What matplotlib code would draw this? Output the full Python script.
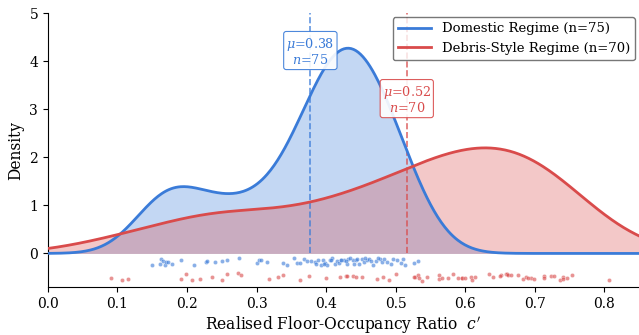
import numpy as np
import matplotlib
matplotlib.use("Agg")
import matplotlib.pyplot as plt

# rug values (realised floor-occupancy ratio c')
domestic = [
    0.149, 0.161, 0.163, 0.166, 0.168, 0.170, 0.172, 0.179, 0.192, 0.210, 0.228, 0.229, 0.240,
    0.250, 0.258, 0.275, 0.300, 0.303, 0.307, 0.338, 0.344, 0.354, 0.358, 0.362, 0.368, 0.373,
    0.384, 0.388, 0.392, 0.395, 0.399, 0.402, 0.405, 0.409, 0.413, 0.416, 0.418, 0.422, 0.426,
    0.430, 0.432, 0.439, 0.443, 0.451, 0.454, 0.459, 0.462, 0.467, 0.478, 0.481, 0.487, 0.493,
    0.502, 0.508, 0.511, 0.526, 0.532,
    0.315, 0.378, 0.386, 0.397, 0.407, 0.421, 0.429, 0.435, 0.440, 0.445, 0.448, 0.456, 0.465,
    0.472, 0.475, 0.484, 0.496, 0.514,
]
debris = [
    0.091, 0.106, 0.115, 0.191, 0.199, 0.207, 0.218, 0.236,
    0.258, 0.274, 0.277, 0.318, 0.331, 0.338, 0.363, 0.375, 0.400, 0.429,
    0.430, 0.438, 0.443, 0.451, 0.473, 0.482, 0.490, 0.528, 0.527, 0.532, 0.533, 0.538, 0.545,
    0.563, 0.563, 0.567, 0.576, 0.583, 0.589, 0.595, 0.596, 0.609, 0.610,
    0.614, 0.634, 0.640, 0.651, 0.659, 0.660, 0.662, 0.666, 0.676, 0.683, 0.687, 0.694, 0.699,
    0.713, 0.714, 0.724, 0.728, 0.736, 0.740, 0.746, 0.754, 0.807,
    0.250, 0.420, 0.600, 0.650, 0.690, 0.740, 0.500,
]

groups = [
    ("Domestic Regime", np.array(domestic), "#3a7bd8", -0.17, 4.2),
    ("Debris-Style Regime", np.array(debris), "#d94b4b", -0.49, 3.2),
]


def kde(data, grid):
    # gaussian kde, Scott's rule
    bw = data.std(ddof=1) * len(data) ** (-1 / 5)
    z = (grid[:, None] - data[None, :]) / bw
    return np.exp(-0.5 * z ** 2).sum(axis=1) / (len(data) * bw * np.sqrt(2 * np.pi))


plt.rcParams["font.family"] = "DejaVu Serif"
plt.rcParams["mathtext.fontset"] = "dejavuserif"

fig, ax = plt.subplots(figsize=(6.39, 3.35), dpi=100)
fig.subplots_adjust(left=0.075, right=1.0, top=0.961, bottom=0.143)

xlim = (0.0, 0.85)
grid = np.linspace(xlim[0], xlim[1], 500)
jit = np.random.default_rng(3)

for name, vals, col, rug_y, lab_y in groups:
    dens = kde(vals, grid)
    ax.fill_between(grid, dens, color=col, alpha=0.3, lw=0, zorder=1)
    ax.plot(grid, dens, color=col, lw=2, zorder=3, label=f"{name} (n={len(vals)})")
    mu = vals.mean()
    ax.vlines(mu, 0, 5, colors=col, linestyles="--", lw=1.2, alpha=0.8, zorder=2)
    ax.text(mu, lab_y, f"$\\mu$={mu:.2f}\n$n$={len(vals)}", color=col, fontsize=9.2,
            ha="center", va="center", linespacing=1.0, zorder=5,
            bbox=dict(boxstyle="round,pad=0.2", fc="white", ec=col, lw=0.8, alpha=0.9))
    ys = rug_y + jit.uniform(-0.08, 0.08, len(vals))
    ax.scatter(vals, ys, s=9, color=col, alpha=0.6, edgecolor="white", linewidth=0.3, zorder=4)

ax.set_xlim(*xlim)
ax.set_ylim(-0.7, 5)
ax.set_yticks([0, 1, 2, 3, 4, 5])
ax.tick_params(labelsize=10)
ax.set_xlabel("Realised Floor-Occupancy Ratio  $c'$", fontsize=11.2, labelpad=2)
ax.set_ylabel("Density", fontsize=11.2)
ax.spines["top"].set_visible(False)
ax.spines["right"].set_visible(False)

leg = ax.legend(loc="upper right", fontsize=9.5, frameon=True, fancybox=True,
                borderaxespad=0.3, handlelength=2.5)
leg.get_frame().set_edgecolor("#555555")

fig.savefig("out.png", dpi=100)
